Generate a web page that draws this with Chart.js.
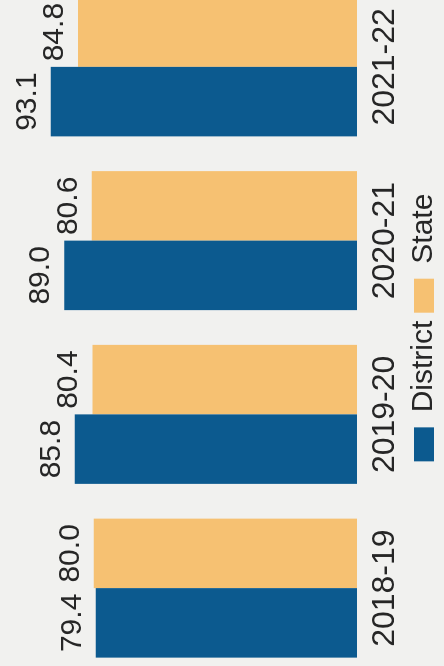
<!DOCTYPE html>
<html>
<head>
<meta charset="utf-8">
<script src="https://cdn.jsdelivr.net/npm/chart.js@4/dist/chart.umd.min.js"></script>
<style>
  html, body { margin: 0; padding: 0; background: #f1f1ef; }
  #frame { position: relative; width: 444px; height: 666px; overflow: hidden; background: #f1f1ef; }
  /* the chart is drawn upright, then turned a quarter left like the scan */
  #turn {
    position: absolute; left: 0; top: 0;
    width: 695px; height: 449px;
    transform-origin: 0 0;
    transform: translate(0px, 675px) rotate(-90deg);
  }
</style>
</head>
<body>
<div id="frame"><div id="turn"><canvas id="rateChart" width="695" height="449"></canvas></div></div>
<script>
// =========================
// data
// =========================
const years = ['2018-19', '2019-20', '2020-21', '2021-22'];
const districtValues = [79.4, 85.8, 89.0, 93.1];
const stateValues = [80.0, 80.4, 80.6, 84.8];
const seriesNames = ['District', 'State'];

const FONT = '"Liberation Sans", Arial, sans-serif';

// numbers written above each bar
const valueLabels = {
    id: 'valueLabels',
    afterDatasetsDraw(chart) {
        const ctx = chart.ctx;
        ctx.save();
        ctx.font = '30px ' + FONT;
        ctx.fillStyle = '#262626';
        ctx.textAlign = 'center';
        ctx.textBaseline = 'alphabetic';
        chart.data.datasets.forEach((ds, i) => {
            chart.getDatasetMeta(i).data.forEach((bar, j) => {
                ctx.fillText(ds.data[j].toFixed(1), bar.x, bar.y - 15);
            });
        });
        ctx.restore();
    }
};

const ctx = document.getElementById('rateChart').getContext('2d');
new Chart(ctx, {
    type: 'bar',
    data: {
        labels: years,
        datasets: [
            { label: seriesNames[0], data: districtValues, backgroundColor: '#0c5a8f' },
            { label: seriesNames[1], data: stateValues, backgroundColor: '#f6c172' }
        ]
    },
    options: {
        responsive: false,
        animation: false,
        categoryPercentage: 0.8,
        barPercentage: 1.0,
        layout: { padding: { top: 28, bottom: 0 } },
        scales: {
            x: {
                grid: { display: false, drawTicks: false },
                border: { display: false },
                ticks: { color: '#262626', font: { family: FONT, size: 32, lineHeight: 1.0 }, padding: 12 },
                // keep the year labels close to the legend
                afterFit(scale) { scale.height = 44; }
            },
            y: { display: false, min: 0, max: 100 }
        },
        plugins: {
            legend: {
                position: 'bottom',
                labels: {
                    color: '#262626',
                    font: { family: FONT, size: 30 },
                    boxWidth: 34,
                    boxHeight: 20,
                    padding: 8
                }
            },
            tooltip: { enabled: false }
        }
    },
    plugins: [valueLabels]
});
</script>
</body>
</html>
